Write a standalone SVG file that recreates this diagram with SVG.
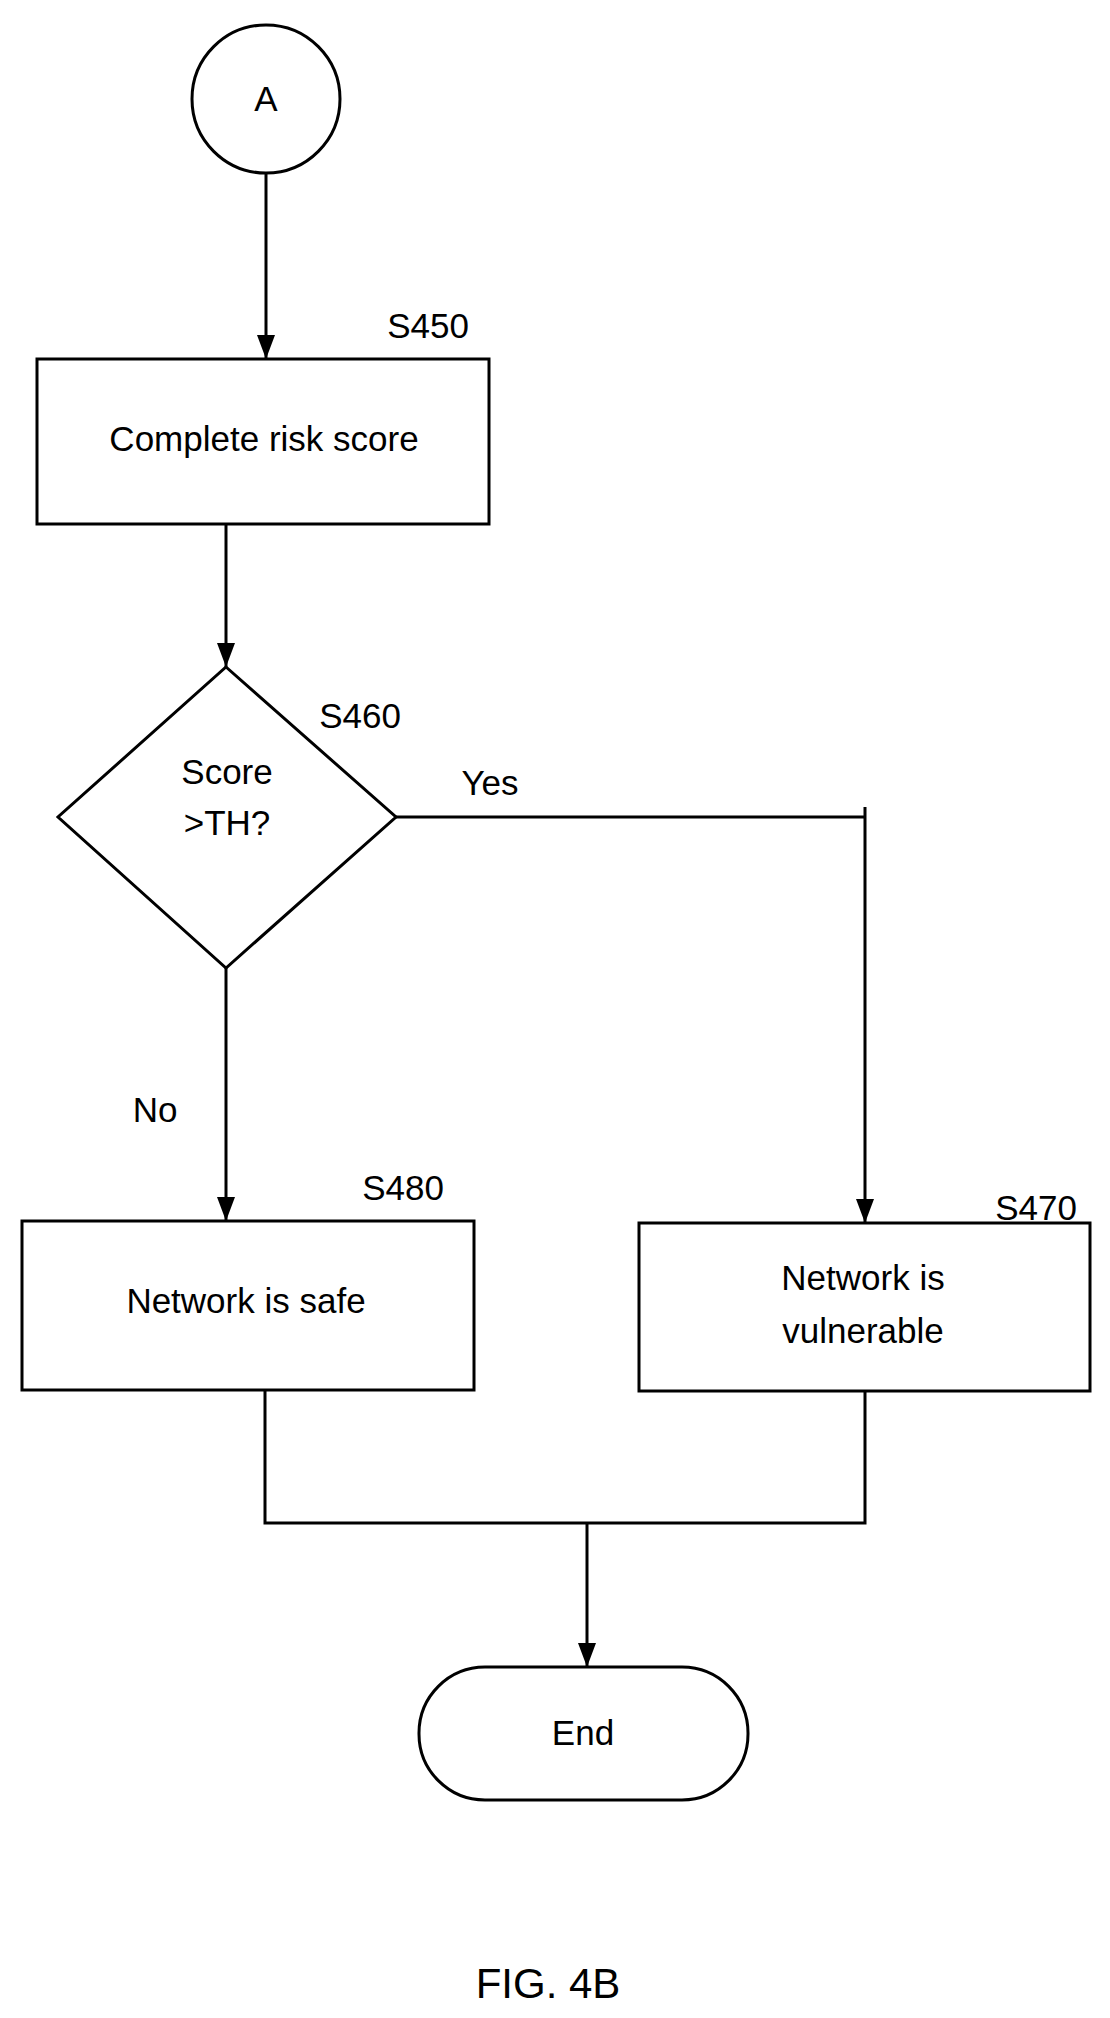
<svg xmlns="http://www.w3.org/2000/svg" width="1110" height="2018" viewBox="0 0 1110 2018">
<style>
.s{fill:#fff;stroke:#000;stroke-width:3}
.l{fill:none;stroke:#000;stroke-width:3}
text{font-family:"Liberation Sans",Arial,sans-serif;font-size:35px;fill:#000;text-anchor:middle}
</style>
<defs><marker id="a" markerWidth="10" markerHeight="10" refX="9" refY="5" orient="auto" markerUnits="userSpaceOnUse" viewBox="0 0 10 10"><path d="M0,0 L10,5 L0,10 z" fill="#000" transform="scale(1)"/></marker>
<marker id="b" markerWidth="24" markerHeight="24" refX="24" refY="12" orient="auto" markerUnits="userSpaceOnUse"><path d="M0,3 L24,12 L0,21 z" fill="#000"/></marker></defs>
<rect width="1110" height="2018" fill="#fff"/>
<g id="connectors">
<line class="l" x1="266" y1="173" x2="266" y2="359" marker-end="url(#b)"/>
<line class="l" x1="226" y1="524" x2="226" y2="667" marker-end="url(#b)"/>
<polyline class="l" points="396,817 865,817"/>
<line class="l" x1="865" y1="807" x2="865" y2="1223" marker-end="url(#b)"/>
<line class="l" x1="226" y1="968" x2="226" y2="1221" marker-end="url(#b)"/>
<polyline class="l" points="265,1390 265,1523 865,1523 865,1391"/>
<line class="l" x1="587" y1="1523" x2="587" y2="1667" marker-end="url(#b)"/>
<text x="490" y="795">Yes</text>
<text x="155" y="1122">No</text>
</g>
<g id="A"><circle class="s" cx="266" cy="99" r="74"/><text x="266" y="111">A</text></g>
<g id="S450"><rect class="s" x="37" y="359" width="452" height="165"/><text x="264" y="451">Complete risk score</text><text x="428" y="338">S450</text></g>
<g id="S460"><polygon class="s" points="226,667 396,817 226,968 58,817"/><text x="227" y="784">Score</text><text x="227" y="835">&gt;TH?</text><text x="360" y="728">S460</text></g>
<g id="S480"><rect class="s" x="22" y="1221" width="452" height="169"/><text x="246" y="1313">Network is safe</text><text x="403" y="1200">S480</text></g>
<g id="S470"><rect class="s" x="639" y="1223" width="451" height="168"/><text x="863" y="1290">Network is</text><text x="863" y="1343">vulnerable</text><text x="1036" y="1220">S470</text></g>
<g id="End"><rect class="s" x="419" y="1667" width="329" height="133" rx="66" ry="66"/><text x="583" y="1745">End</text></g>
<text x="548" y="1998" style="font-size:42px">FIG. 4B</text>
</svg>
